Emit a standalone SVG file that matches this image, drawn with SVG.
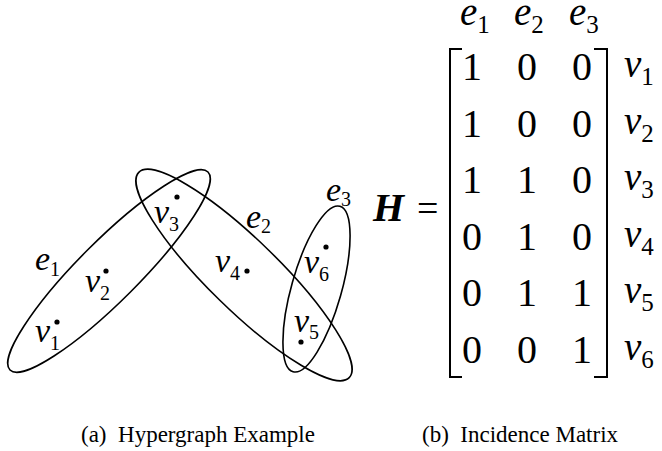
<svg xmlns="http://www.w3.org/2000/svg" width="662" height="451" viewBox="0 0 662 451">
<style>
text{font-family:'Liberation Serif','Times New Roman',serif;fill:#000}
.edge{fill:none;stroke:#000;stroke-width:1.6}
.lbl{font-style:italic;font-size:34px}
.sub{font-style:normal;font-size:20px}
.mlbl{font-style:italic;font-size:39px}
.msub{font-style:normal;font-size:25px}
.num{font-size:40px;text-anchor:middle}
.cap{font-size:23px}
.br{fill:none;stroke:#000;stroke-width:2}
</style>
<rect width="662" height="451" fill="#fff"/>
<g id="hypergraph" font-family="Liberation Serif, Times New Roman, serif">
<g id="e1"><ellipse class="edge" cx="109" cy="271" rx="140" ry="30" transform="rotate(-45 109 271)"/>
<text class="lbl" x="35" y="270">e<tspan class="sub" dy="6">1</tspan></text></g>
<g id="e2"><ellipse class="edge" cx="244" cy="275" rx="147" ry="35" transform="rotate(44.3 244 275)"/>
<text class="lbl" x="246" y="228">e<tspan class="sub" dy="5">2</tspan></text></g>
<g id="e3"><ellipse class="edge" cx="316.5" cy="289" rx="25" ry="86" transform="rotate(15.8 316.5 289)"/>
<text class="lbl" x="326" y="201">e<tspan class="sub" dy="5">3</tspan></text></g>
<g id="v1"><circle cx="57" cy="322" r="2.6"/><text class="lbl" x="35" y="342">v<tspan class="sub" dy="8">1</tspan></text></g>
<g id="v2"><circle cx="106" cy="271" r="2.6"/><text class="lbl" x="85" y="292">v<tspan class="sub" dy="8">2</tspan></text></g>
<g id="v3"><circle cx="177" cy="197" r="2.6"/><text class="lbl" x="154" y="223">v<tspan class="sub" dy="8">3</tspan></text></g>
<g id="v4"><circle cx="247" cy="271" r="2.6"/><text class="lbl" x="215" y="272">v<tspan class="sub" dy="8">4</tspan></text></g>
<g id="v5"><circle cx="301" cy="342" r="2.6"/><text class="lbl" x="294" y="332">v<tspan class="sub" dy="7">5</tspan></text></g>
<g id="v6"><circle cx="326" cy="247" r="2.6"/><text class="lbl" x="304" y="273">v<tspan class="sub" dy="8">6</tspan></text></g>
</g>
<g id="connectors"></g>
<g id="matrix" font-family="Liberation Serif, Times New Roman, serif">
<text class="mlbl" x="460" y="25">e<tspan class="msub" dy="8">1</tspan></text>
<text class="mlbl" x="514" y="25">e<tspan class="msub" dy="8">2</tspan></text>
<text class="mlbl" x="569" y="25">e<tspan class="msub" dy="8">3</tspan></text>
<text x="373" y="221" font-style="italic" font-weight="bold" font-size="40">H</text>
<text x="417" y="221" font-size="38">=</text>
<path class="br" d="M462,49H450V377H462"/>
<path class="br" d="M594,49H607V377H594"/>
<g class="num">
<text x="472" y="80">1</text><text x="527" y="80">0</text><text x="582" y="80">0</text>
<text x="472" y="136.5">1</text><text x="527" y="136.5">0</text><text x="582" y="136.5">0</text>
<text x="472" y="193">1</text><text x="527" y="193">1</text><text x="582" y="193">0</text>
<text x="472" y="249.5">0</text><text x="527" y="249.5">1</text><text x="582" y="249.5">0</text>
<text x="472" y="306">0</text><text x="527" y="306">1</text><text x="582" y="306">1</text>
<text x="472" y="362.5">0</text><text x="527" y="362.5">0</text><text x="582" y="362.5">1</text>
</g>
<text class="mlbl" x="624" y="77">v<tspan class="msub" dy="8">1</tspan></text>
<text class="mlbl" x="624" y="133.5">v<tspan class="msub" dy="8">2</tspan></text>
<text class="mlbl" x="624" y="190">v<tspan class="msub" dy="8">3</tspan></text>
<text class="mlbl" x="624" y="246.5">v<tspan class="msub" dy="8">4</tspan></text>
<text class="mlbl" x="624" y="303">v<tspan class="msub" dy="8">5</tspan></text>
<text class="mlbl" x="624" y="359.5">v<tspan class="msub" dy="8">6</tspan></text>
</g>
<text class="cap" x="81" y="442" xml:space="preserve">(a)  Hypergraph Example</text>
<text class="cap" x="422" y="442" xml:space="preserve">(b)  Incidence Matrix</text>
</svg>
